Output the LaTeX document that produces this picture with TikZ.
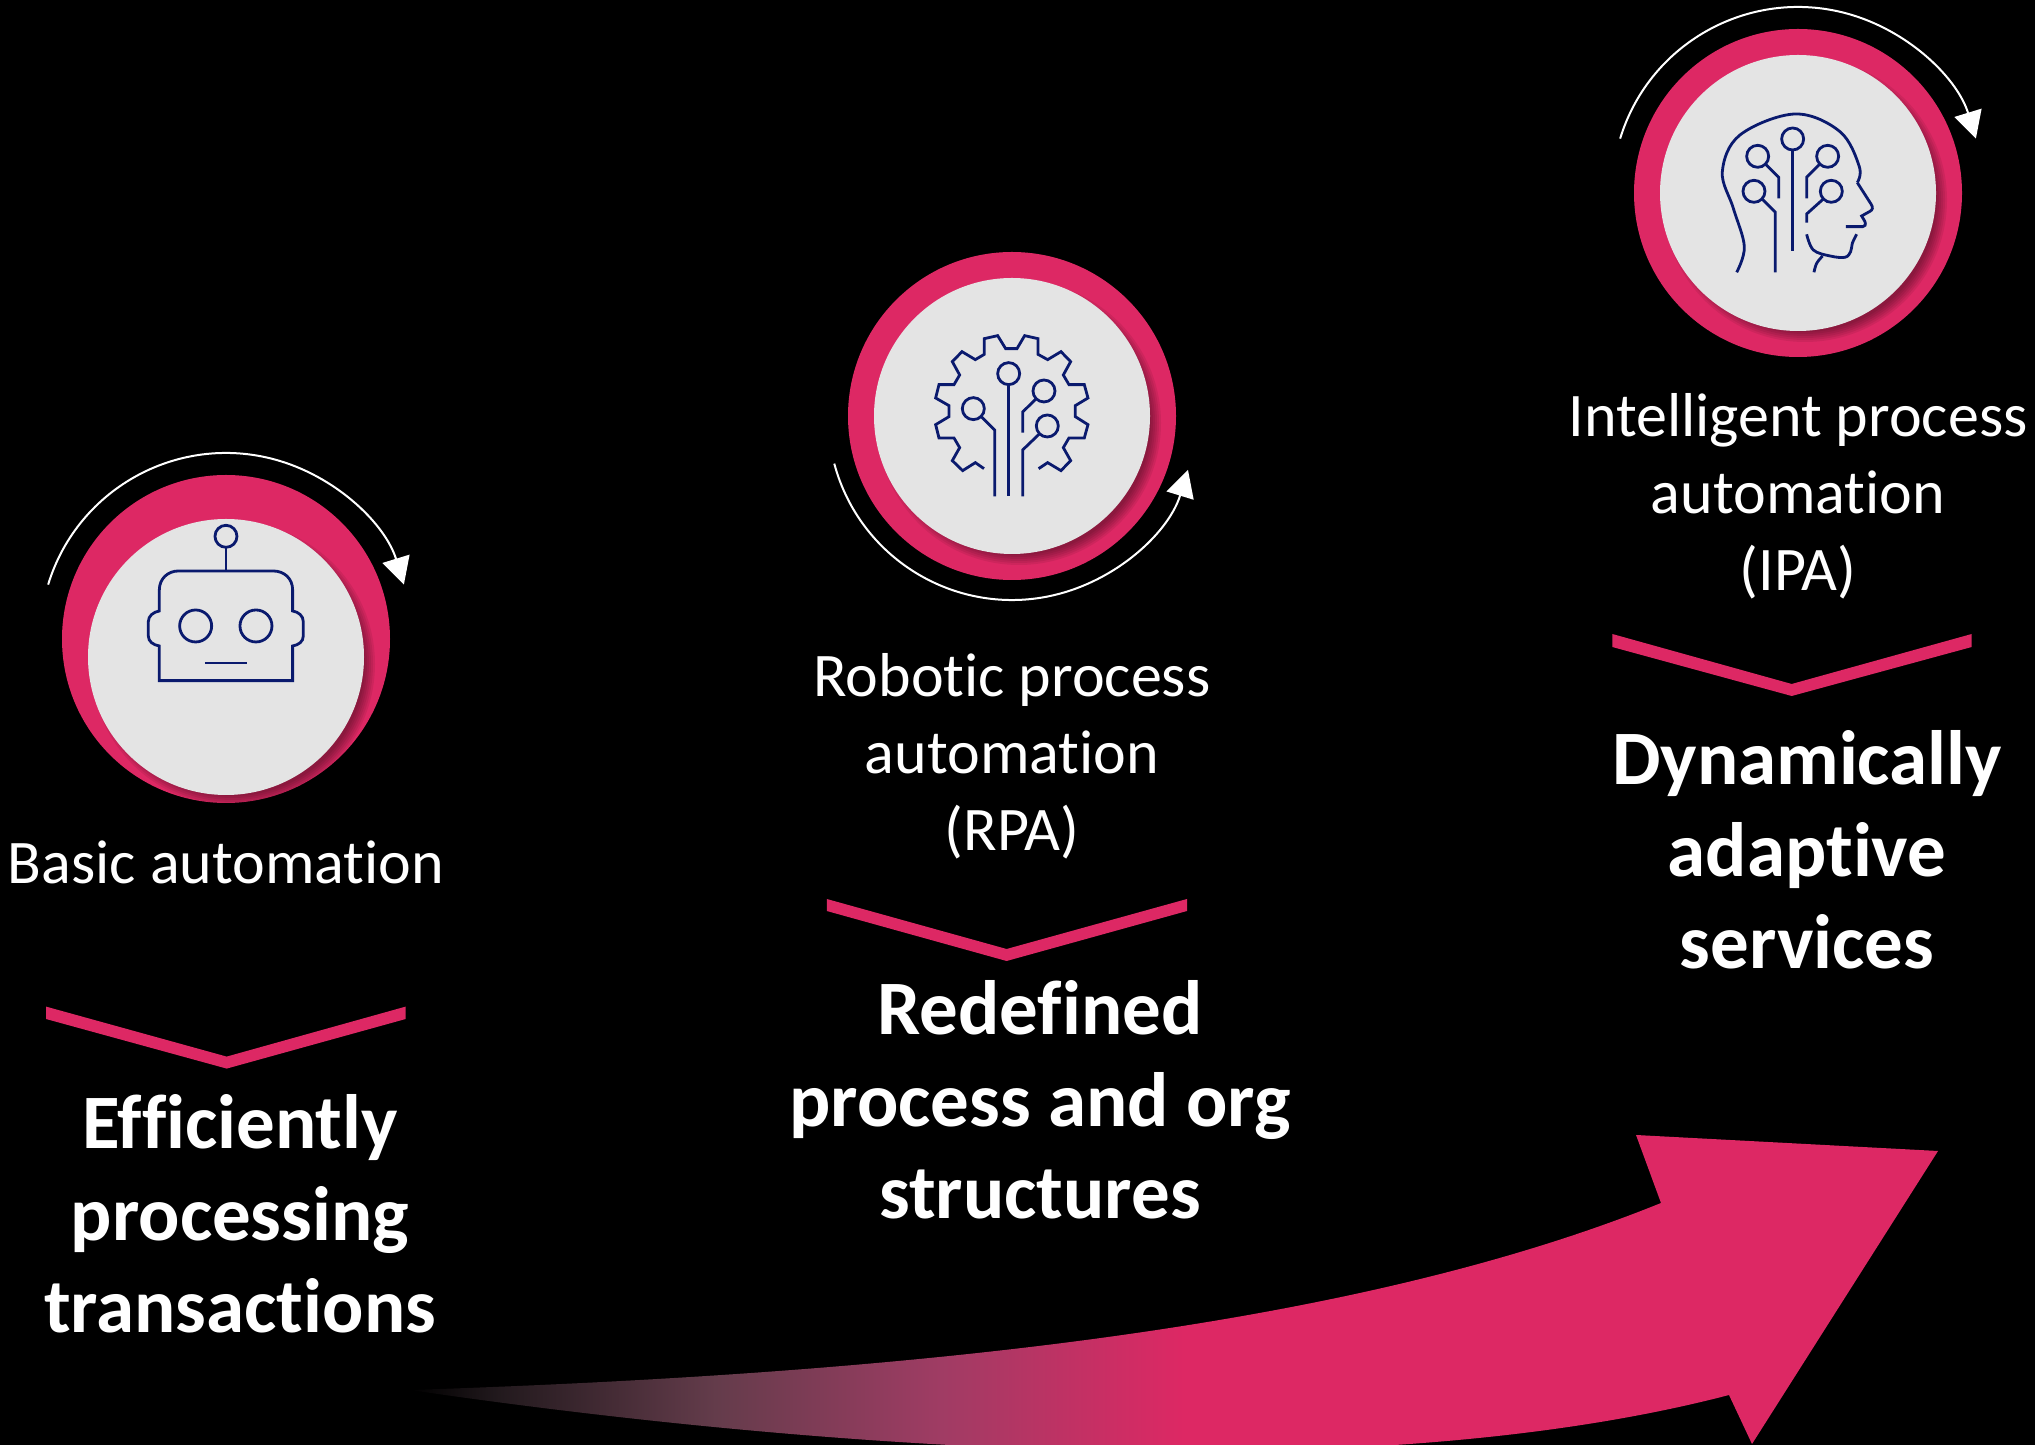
\documentclass[tikz,border=0pt]{standalone}
\usepackage{fontspec}
\setmainfont[Ligatures=NoCommon]{Carlito}
\usetikzlibrary{arrows.meta,positioning,calc}
\definecolor{ringpink}{HTML}{DD2864}
\definecolor{discgrey}{HTML}{E4E4E4}
\definecolor{iconblue}{HTML}{0A1A6E}
\definecolor{fadeone}{HTML}{231A1E}
\definecolor{fadetwo}{HTML}{643C4B}
\definecolor{fadethree}{HTML}{A03C64}
\pgfdeclarehorizontalshading{arrowfade}{100bp}{color(0bp)=(black); color(25bp)=(black); color(28bp)=(fadeone); color(35bp)=(fadetwo); color(42.4bp)=(fadethree); color(50.3bp)=(ringpink); color(100bp)=(ringpink)}
\tikzset{
  ring/.style={circle,fill=ringpink,minimum size=328pt,inner sep=0pt},
  disc/.style={circle,fill=discgrey,minimum size=276pt,inner sep=0pt},
  sweep/.style={white,line width=2pt,-{Triangle[length=27pt,width=28pt]}},
  stage/.style={text=white,align=center,font=\fontsize{62}{77}\selectfont},
  result/.style={text=white,align=center,font=\fontsize{77}{92}\selectfont\bfseries},
  icon/.style={iconblue,line width=2.8pt},
  chevron/.style={fill=ringpink}
}
\newcommand{\discshade}[1]{
  \begin{scope}
    \clip (#1) circle (164);
    \foreach \r in {132,134,...,142} {
      \fill[black,opacity=0.07] ($(#1)+(7,-7)$) circle (\r);
    }
  \end{scope}
}
\begin{document}
\begin{tikzpicture}[x=1pt,y=1pt]
  \useasboundingbox (0,0) rectangle (2035,1444);
  \fill[black] (-3,-3) rectangle (2038,1447);

  % big arrow
  \path[shading=arrowfade] (410,54) .. controls (900,70) and (1350,115) .. (1661,241)
    -- (1636,309) -- (1938,293) -- (1752,0) -- (1729,49)
    .. controls (1350,-50) and (780,0) .. (410,54) -- cycle;

  % rings
  \node[ring] (basicring) at (226,805) {};
  \node[ring] (roboticring) at (1012,1028) {};
  \node[ring] (intelring) at (1798,1251) {};
  \discshade{226,787}
  \discshade{1012,1028}
  \discshade{1798,1251}
  \node[disc] (basicdisc) at (226,787) {};
  \node[disc] (roboticdisc) at (roboticring) {};
  \node[disc] (inteldisc) at (intelring) {};

  \draw[sweep] ([shift={(163:186)}]basicring.center) arc[start angle=163,end angle=17,radius=186];
  \draw[sweep] ([shift={(195:184)}]roboticring.center) arc[start angle=195,end angle=343,radius=184];
  \draw[sweep] ([shift={(163:186)}]intelring.center) arc[start angle=163,end angle=17,radius=186];

  % robot icon
  \begin{scope}[shift={(30,1014)},x=0.3333pt,y=-0.3333pt,icon]
    \draw (588,319) circle (33);
    \draw (588,352) -- (588,423);
    \draw (388,752) -- (388,648) .. controls (370,645) and (355,635) .. (355,618) -- (355,575)
      .. controls (355,558) and (370,546) .. (388,543) -- (388,480)
      .. controls (388,445) and (415,423) .. (445,423) -- (730,423)
      .. controls (762,423) and (788,445) .. (788,480) -- (788,543)
      .. controls (806,546) and (820,558) .. (820,575) -- (820,618)
      .. controls (820,635) and (806,645) .. (788,648) -- (788,752) -- cycle;
    \draw (497,588) circle (48);
    \draw (678,588) circle (48);
    \draw (525,699) -- (651,699);
  \end{scope}

  % gear icon
  \begin{scope}[shift={(820,1204)},x=0.3333pt,y=-0.3333pt,icon]
    \draw (492,686) -- (466,668) -- (428,692) -- (397,662) -- (419,623) -- (402,594) -- (357,594)
      -- (347,554) -- (387,530) -- (387,497) -- (347,474) -- (357,434) -- (402,434) -- (419,405)
      -- (397,365) -- (426,335) -- (466,359) -- (493,343) -- (493,296) -- (533,287) -- (557,326)
      -- (591,326) -- (614,287) -- (654,296) -- (654,343) -- (683,359) -- (723,335) -- (752,365)
      -- (730,405) -- (747,434) -- (793,434) -- (804,474) -- (766,497) -- (766,530) -- (804,554)
      -- (793,594) -- (747,594) -- (730,623) -- (752,662) -- (723,692) -- (683,668) -- (656,686);
    \foreach \cx/\cy in {566/401,460/506,672/453,682/558} {
      \draw (\cx,\cy) circle (33);
    }
    \draw (566,434) -- (566,769);
    \draw (484,530) -- (524,570) -- (524,769);
    \draw (648,477) -- (608,516) -- (608,578);
    \draw (658,582) -- (608,630) -- (608,769);
  \end{scope}

  % head icon
  \begin{scope}[shift={(1600,1444)},x=0.3333pt,y=-0.3333pt,icon]
    \draw plot[smooth,tension=0.6] coordinates {(410,817) (433,740) (400,625) (367,515) (420,405) (585,342) (720,395) (778,500) (772,548)};
    \draw (772,548) -- (813,612) .. controls (820,622) and (818,630) .. (810,634) -- (785,648) -- (795,665)
      .. controls (798,675) and (795,680) .. (788,680) -- (738,680);
    \draw plot[smooth,tension=0.6] coordinates {(620,703) (640,750) (690,768) (735,772) (752,755) (757,730) (770,703)};
    \draw plot[smooth,tension=0.6] coordinates {(642,817) (650,790) (668,768)};
    \foreach \cx/\cy in {578/417,473/469,683/469,462/574,694/574} {
      \draw (\cx,\cy) circle (33);
    }
    \draw (578,450) -- (578,753);
    \draw (497,493) -- (536,532) -- (536,595);
    \draw (659,493) -- (620,532) -- (620,595);
    \draw (487,598) -- (526,637) -- (526,817);
    \draw (669,598) -- (620,642) -- (620,668);
  \end{scope}

  % labels
  \node[stage,below=34pt of basicring] (basiclabel) {Basic automation};
  \node[stage,below=70pt of roboticring] (roboticlabel) {Robotic process\\automation\\(RPA)};
  \node[stage,below=33pt of intelring] (intellabel) {Intelligent process\\automation\\(IPA)};

  \fill[chevron] (46,437.4) -- (226.7,387.4) -- (405.7,437.4) -- (405.7,425) -- (226.7,375.4) -- (46,425) -- cycle;
  \fill[chevron] (826.8,545) -- (1006.6,495) -- (1187,545) -- (1187,533) -- (1006.6,483) -- (826.8,533) -- cycle;
  \fill[chevron] (1612.3,810) -- (1791.7,760) -- (1971.7,810) -- (1971.7,797) -- (1791.7,748) -- (1612.3,797) -- cycle;

  \node[result] (basicresult) at (240,230) {Efficiently\\processing\\transactions};
  \node[result] (roboticresult) at (1040,344) {Redefined\\process and org\\structures};
  \node[result] (intelresult) at (1807,594) {Dynamically\\adaptive\\services};
\end{tikzpicture}
\end{document}
